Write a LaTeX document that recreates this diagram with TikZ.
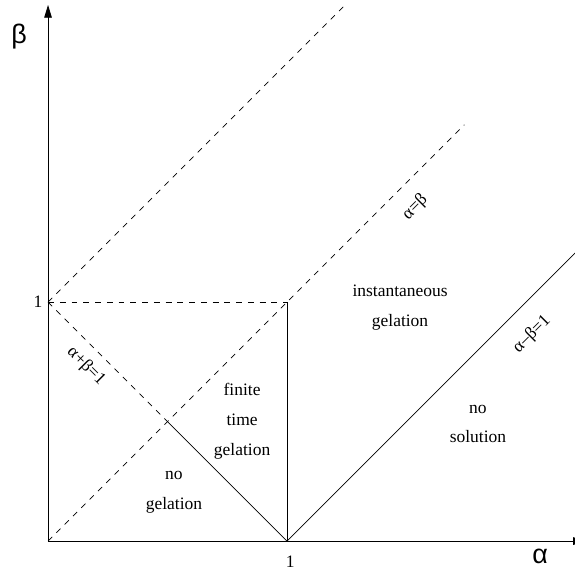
\documentclass[tikz,border=0pt]{standalone}
\usepackage{fontspec}
\setmainfont{Liberation Serif}
\setsansfont{Liberation Sans}
\usetikzlibrary{arrows.meta, positioning}
\tikzset{
    axis/.style={thin, -{Triangle[length=7.5pt,width=4.5pt]}},
    bound/.style={thin},
    dashline/.style={thin, dash pattern=on 3.5pt off 3.5pt},
    region/.style={align=center, font=\fontsize{10.4}{17.8}\selectfont},
    linelabel/.style={font=\fontsize{10.4}{12}\selectfont, inner sep=0pt},
    axislabel/.style={font=\fontsize{16}{18}\sffamily\selectfont}
}

\begin{document}
\begin{tikzpicture}[x=5cm, y=5cm]
    \useasboundingbox (-0.201,-0.130) rectangle (2.205,2.264);
    \coordinate (O) at (0,0);
    \coordinate (A1) at (1,0);
    \coordinate (B1) at (0,1);
    \coordinate (P) at (1,1);
    \coordinate (M) at (0.5,0.5);
    \coordinate (xend) at (2.25,0);
    \coordinate (yend) at (0,2.243);
    \coordinate (diagend) at (1.742,1.742);
    \coordinate (upend) at (1.25,2.25);
    \coordinate (solend) at (2.25,1.25);
    % axes
    \draw [axis] (O) -- (xend);
    \draw [axis] (O) -- (yend);
    \node [axislabel] (alpha) at (2.059,-0.063) {α};
    \node [axislabel] (beta) at (-0.121,2.109) {β};
    \node [region] (one-a) at (1.013,-0.088) {1};
    \node [region] (one-b) at (-0.042,1.0) {1};
    % boundaries
    \draw [dashline] (B1) -- (P);
    \draw [dashline] (B1) -- (upend);
    \draw [dashline] (O) -- (diagend);
    \draw [dashline] (B1) -- (M);
    \draw [bound] (M) -- (A1);
    \draw [bound] (A1) -- (P);
    \draw [bound] (A1) -- (solend);
    % line labels
    \node [linelabel, rotate=45] (l-diag) at (1.536,1.397) {α=β};
    \node [linelabel, rotate=45] (l-diff) at (2.025,0.866) {α–β=1};
    \node [linelabel, rotate=-45] (l-sum) at (0.159,0.732) {α+β=1};
    % regions
    \node [region] (inst) at (1.473,0.975) {instantaneous\\gelation};
    \node [region] (finite) at (0.812,0.502) {finite\\time\\gelation};
    \node [region] (nogel) at (0.527,0.205) {no\\gelation};
    \node [region] (nosol) at (1.799,0.49) {no\\solution};
\end{tikzpicture}
\end{document}
